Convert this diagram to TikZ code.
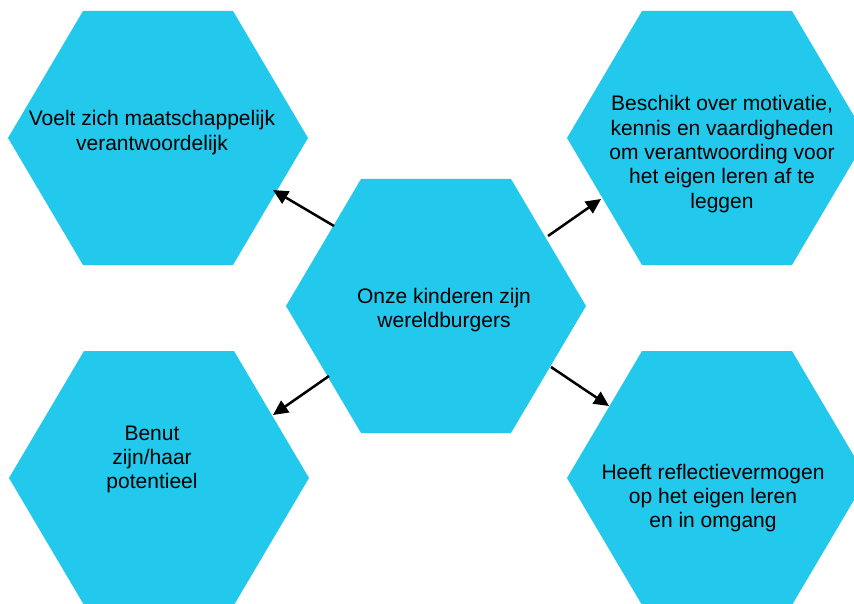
\documentclass[tikz,border=0pt]{standalone}
\usepackage{fontspec}
\setmainfont{Liberation Sans}
\usetikzlibrary{arrows.meta}
\definecolor{hexcyan}{RGB}{34,201,236}
\newcommand{\hexlines}[1]{\begin{tabular}[t]{@{}c@{}}#1\end{tabular}}
\tikzset{
  hexfill/.style={fill=hexcyan},
  hextext/.style={anchor=base, inner sep=0pt, text=black, font=\fontsize{21}{24.3}\selectfont},
  link/.style={draw=black, line width=2.5pt, -{Triangle[length=15pt,width=14pt]}}
}
\newcommand{\hexagonat}[1]{%
  \fill[hexfill] (#1) ++(-75,-127) -- ++(150,0) -- ++(75,127) -- ++(-75,127) -- ++(-150,0) -- ++(-75,-127) -- cycle;}
\begin{document}
\begin{tikzpicture}[x=1pt,y=-1pt]
\useasboundingbox (0,0) rectangle (854,604);
\clip (0,0) rectangle (854,604);
% hexagon centres
\coordinate (tl) at (158,138);
\coordinate (tr) at (717,138);
\coordinate (c)  at (436,306);
\coordinate (bl) at (159,478);
\coordinate (br) at (717,478);
\hexagonat{tl}
\hexagonat{tr}
\hexagonat{c}
\hexagonat{bl}
\hexagonat{br}
% texts
\node[hextext] (ttl) at (152,126) {\hexlines{Voelt zich maatschappelijk\\verantwoordelijk}};
\node[hextext] (tc) at (444,303) {\hexlines{Onze kinderen zijn\\wereldburgers}};
\node[hextext] (ttr) at (722,111) {\hexlines{Beschikt over motivatie,\\kennis en vaardigheden\\om verantwoording voor\\het eigen leren af te\\leggen}};
\node[hextext] (tbl) at (152,440) {\hexlines{Benut\\zijn/haar\\potentieel}};
\node[hextext] (tbr) at (713,479) {\hexlines{Heeft reflectievermogen\\op het eigen leren\\en in omgang}};
% connector ends
\coordinate (s1) at (334,226); \coordinate (e1) at (273,190);
\coordinate (s2) at (548,236); \coordinate (e2) at (601,199);
\coordinate (s3) at (329,376); \coordinate (e3) at (273,415);
\coordinate (s4) at (551,367); \coordinate (e4) at (609,406);
\draw[link] (s1) -- (e1);
\draw[link] (s2) -- (e2);
\draw[link] (s3) -- (e3);
\draw[link] (s4) -- (e4);
\end{tikzpicture}
\end{document}
